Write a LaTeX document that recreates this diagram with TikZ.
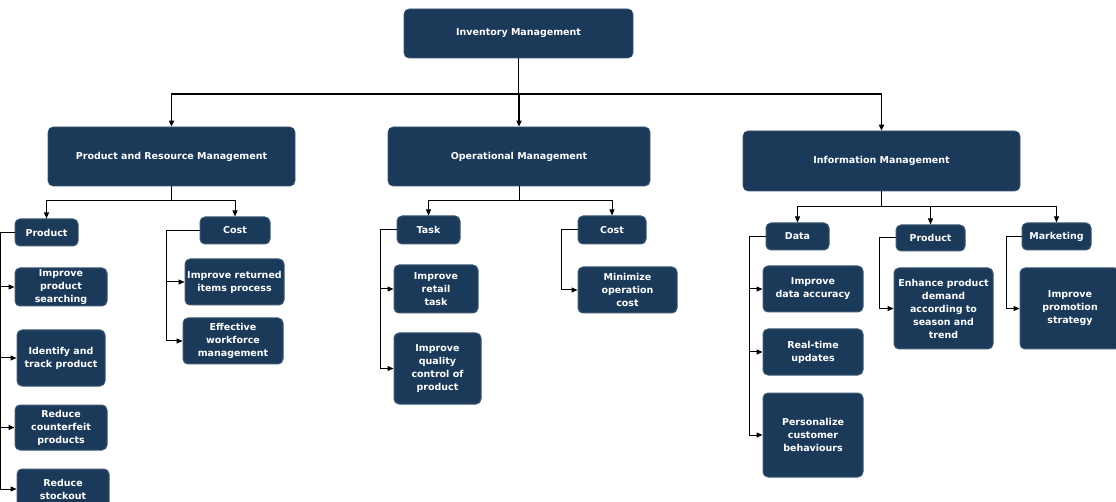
\documentclass[tikz,border=0pt]{standalone}
\usepackage{fontspec}
\setmainfont{DejaVu Sans}
\usepackage{tikz}
\usetikzlibrary{positioning, arrows.meta, calc}
\definecolor{boxblue}{RGB}{27,58,90}

\begin{document}
\begin{tikzpicture}[
    x = 1pt, y = -1pt,
    > = {Triangle[length=6pt, width=5pt]}, line width = 1pt,
    box/.style={rectangle, rounded corners=5pt, fill=boxblue, draw=boxblue!85!white,
        text=white, align=center, inner sep=0pt,
        font=\fontsize{9.5}{13}\selectfont\bfseries},
    main/.style={box, line width=0.6pt},
    link/.style={->, line width=1pt},
    trunk/.style={->, line width=1.5pt}
]
\useasboundingbox (0,0) rectangle (1116,502);

% 1. ROOT AND MAIN AREAS
\node[main, minimum width=229pt, minimum height=49pt] (inv) at (518.5,33.5) {Inventory Management};
\node[main, minimum width=247pt, minimum height=59pt] (prm) at (171.5,156.5) {Product and Resource Management};
\node[main, minimum width=262pt, minimum height=59pt] (opm) at (519,156.5) {Operational Management};
\node[main, minimum width=277pt, minimum height=60pt] (inf) at (881.5,161) {Information Management};

\coordinate (bus0) at (518.5,94);
\draw[trunk] (inv.south) |- (bus0) -| (prm.north);
\draw[trunk] (inv.south) |- (bus0) -| (opm.north);
\draw[trunk] (inv.south) |- (bus0) -| (inf.north);

% 2. PRODUCT AND RESOURCE MANAGEMENT
\begin{scope}
    \node[box, minimum width=63pt, minimum height=27pt] (prod1) at (46.5,232.5) {Product};
    \node[box, minimum width=70pt, minimum height=27pt] (cost1) at (235,230.5) {Cost};
    \coordinate (bus1) at (171.5,201);
    \draw[link] (prm.south) |- (bus1) -| (prod1.north);
    \draw[link] (prm.south) |- (bus1) -| (cost1.north);

    \node[box, minimum width=92pt, minimum height=38pt] (ps) at (61,287) {Improve\\product\\searching};
    \node[box, minimum width=88pt, minimum height=56pt] (itp) at (61,358) {Identify and\\track product};
    \node[box, minimum width=92pt, minimum height=45pt] (rcp) at (61,427.5) {Reduce\\counterfeit\\products};
    \node[box, minimum width=92pt, minimum height=40pt] (rso) at (63,489) {Reduce\\stockout};

    \node[box, minimum width=99pt, minimum height=46pt] (irp) at (234.5,282) {Improve returned\\items process};
    \node[box, minimum width=100pt, minimum height=46pt] (ewm) at (233,341) {Effective\\workforce\\management};

    \draw[link] (prod1.west) -- ++(-14,0) |- (ps.west);
    \draw[link] (prod1.west) -- ++(-14,0) |- (itp.west);
    \draw[link] (prod1.west) -- ++(-14,0) |- (rcp.west);
    \draw[link] (prod1.west) -- ++(-14,0) |- (rso.west);
    \draw[link] (cost1.west) -- ++(-33,0) |- (irp.west);
    \draw[link] (cost1.west) -- ++(-33,0) |- (ewm.west);
\end{scope}

% 3. OPERATIONAL MANAGEMENT
\begin{scope}
    \node[box, minimum width=63pt, minimum height=28pt] (task) at (428.5,230) {Task};
    \node[box, minimum width=68pt, minimum height=28pt] (cost2) at (612,230) {Cost};
    \coordinate (bus2) at (519,201);
    \draw[link] (opm.south) |- (bus2) -| (task.north);
    \draw[link] (opm.south) |- (bus2) -| (cost2.north);

    \node[box, minimum width=84pt, minimum height=48pt] (irt) at (436,289) {Improve\\retail\\task};
    \node[box, minimum width=87pt, minimum height=71pt] (iqc) at (437.5,368.5) {Improve\\quality\\control of\\product};
    \node[box, minimum width=99pt, minimum height=46pt] (moc) at (627.5,290) {Minimize\\operation\\cost};

    \draw[link] (task.west) -- ++(-16,0) |- (irt.west);
    \draw[link] (task.west) -- ++(-16,0) |- (iqc.west);
    \draw[link] (cost2.west) -- ++(-16,0) |- (moc.west);
\end{scope}

% 4. INFORMATION MANAGEMENT
\begin{scope}
    \node[box, minimum width=63pt, minimum height=27pt] (data) at (797.5,236.5) {Data};
    \node[box, minimum width=69pt, minimum height=26pt] (prod2) at (930.5,238) {Product};
    \node[box, minimum width=69pt, minimum height=27pt] (mkt) at (1056.5,236.5) {Marketing};
    \coordinate (bus3) at (881.5,207);
    \draw[link] (inf.south) |- (bus3) -| (data.north);
    \draw[link] (inf.south) |- (bus3) -| (prod2.north);
    \draw[link] (inf.south) |- (bus3) -| (mkt.north);

    \node[box, minimum width=100pt, minimum height=46pt] (ida) at (813,289) {Improve\\data accuracy};
    \node[box, minimum width=100pt, minimum height=46pt] (rtu) at (813,352) {Real-time\\updates};
    \node[box, minimum width=100pt, minimum height=84pt] (pcb) at (813,435) {Personalize\\customer\\behaviours};
    \node[box, minimum width=99pt, minimum height=81pt] (epd) at (943.5,308.5) {Enhance product\\demand\\according to\\season and\\trend};
    \node[box, minimum width=100pt, minimum height=81pt] (ips) at (1070,308.5) {Improve\\promotion\\strategy};

    \draw[link] (data.west) -- ++(-16,0) |- (ida.west);
    \draw[link] (data.west) -- ++(-16,0) |- (rtu.west);
    \draw[link] (data.west) -- ++(-16,0) |- (pcb.west);
    \draw[link] (prod2.west) -- ++(-16,0) |- (epd.west);
    \draw[link] (mkt.west) -- ++(-15,0) |- (ips.west);
\end{scope}

\end{tikzpicture}
\end{document}
